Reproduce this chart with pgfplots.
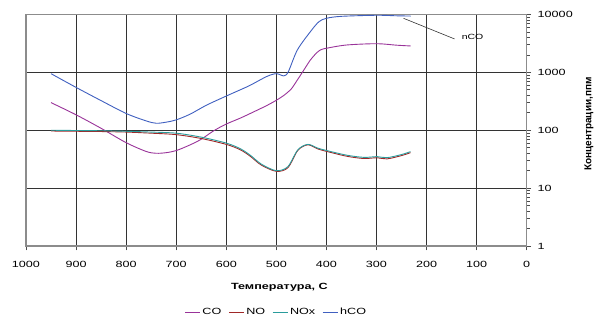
\documentclass[border=0pt]{standalone}
\usepackage{fontspec}
\setmainfont[FakeStretch=1.4]{Liberation Sans}
\newfontfamily\ylfont{Liberation Sans}
\usepackage{pgfplots}
\pgfplotsset{compat=1.18}
\definecolor{cCO}{HTML}{993399}
\definecolor{cNO}{HTML}{A02828}
\definecolor{cNOx}{HTML}{2A9C9C}
\definecolor{chCO}{HTML}{4060C0}
\begin{document}
\begin{tikzpicture}
\useasboundingbox (-26pt,-74pt) rectangle (572pt,246pt);
\begin{axis}[
  at={(0,0)}, anchor=south west,
  scale only axis, width=500.7pt, height=231.5pt,
  x dir=reverse, xmin=0, xmax=1000,
  ymode=log, ymin=1, ymax=10000,
  xtick={0,100,200,300,400,500,600,700,800,900,1000},
  xticklabels={0,100,200,300,400,500,600,700,800,900,1000},
  ytick={1,10,100,1000,10000},
  yticklabels={1,10,100,1000,10000},
  minor ytick={},
  xtick pos=left, ytick pos=right, yticklabel pos=right,
  tick align=outside, major tick length=4.5pt,
  grid=major, major grid style={black!80, line width=0.7pt},
  axis line style={black!45, line width=1.2pt},
  tick style={black!70, line width=0.7pt},
  ticklabel style={font=\fontsize{9}{10}\selectfont},
  xticklabel style={yshift=-7pt},
  yticklabel style={xshift=3pt},
  xlabel={Температура, С},
  xlabel style={font=\bfseries\fontsize{9}{10}\selectfont, at={(axis description cs:0.506,-0.18)}, anchor=center},
  ylabel={Концентрации,ппм},
  ylabel style={font=\ylfont\bfseries\fontsize{10}{11}\selectfont, at={(axis description cs:1.1244,0.527)}, anchor=center},
  legend style={at={(axis description cs:0.5,-0.285)}, anchor=center, draw=none, fill=none,
    font=\fontsize{9}{10}\selectfont, /tikz/every even column/.append style={column sep=5pt}},
  legend columns=-1,
  legend image code/.code={\draw[#1] (0pt,0pt) -- (15pt,0pt);},
  every axis plot/.append style={line width=0.9pt, smooth, tension=0.5},
]
\addplot[cCO] coordinates {
(950,300) (900,185) (850,108) (800,61) (760,43) (740,40) (720,41) (700,44.5)
(672,56) (650,70) (625,98) (600,128) (572,162) (552,195) (520,265) (500,330)
(485,400) (470,520) (458,740) (445,1100) (432,1640) (420,2150) (412,2440) (400,2610)
(360,2970) (300,3130) (260,2950) (232,2860)};
\addlegendentry{CO}
\addplot[cNO] coordinates {
(950,97) (900,96) (850,95) (800,93) (750,89) (700,84) (650,72) (600,57) (572,46)
(552,35.5) (530,25) (500,19.5) (477,22.5) (457,45) (437,56) (417,47.5)
(399,43) (359,35.5) (325,32.5) (299,33.5) (279,32) (250,36.5) (232,41)};
\addlegendentry{NO}
\addplot[cNOx] coordinates {
(950,100) (900,99) (850,98) (800,96) (750,93) (700,89) (650,76) (600,60) (572,48)
(552,37) (530,26) (500,20) (477,23.5) (457,46) (437,57) (417,49)
(399,44.5) (359,37) (325,34) (299,35) (279,33.6) (250,38) (232,42.7)};
\addlegendentry{NOx}
\addplot[chCO] coordinates {
(950,950) (900,550) (850,325) (800,195) (760,145) (740,132) (720,138) (700,151)
(672,190) (640,270) (600,390) (572,500) (552,600) (519,850) (500,950) (485,870)
(476,1030) (458,2440) (432,5050) (415,7500) (400,8600) (370,9300) (300,9700)
(260,9500) (232,9400)};
\addlegendentry{hCO}
\draw[black!80, line width=0.6pt] (axis cs:246,8600) -- (axis cs:144,3780);
\node[font=\fontsize{7.5}{8}\selectfont] at (axis cs:108,4140) {nCO};
\end{axis}
\end{tikzpicture}
\end{document}
